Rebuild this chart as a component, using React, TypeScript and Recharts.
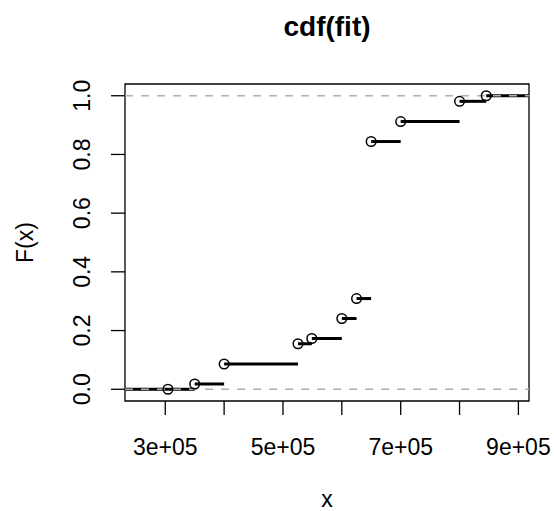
import React from 'react'
import {
	ComposedChart,
	XAxis,
	YAxis,
	Scatter,
	ReferenceLine,
	ReferenceArea,
	Label,
} from 'recharts'

// jump points of the fitted cdf and the level after each jump
const knots = [
	304600, 350000, 400000, 525500, 549000, 600000, 625000, 649800, 700000,
	800000, 845300,
]
const cdfValues = [
	0.0, 0.018, 0.086, 0.155, 0.173, 0.241, 0.309, 0.844, 0.912, 0.981, 1.0,
]

const xTicks = [300000, 400000, 500000, 600000, 700000, 800000, 900000]
const xLabelled = [300000, 500000, 700000, 900000]
const yTicks = [0, 0.2, 0.4, 0.6, 0.8, 1.0]
const guideLevels = [0, 1]

const xDomain: [number, number] = [231600, 918000]
const yDomain: [number, number] = [-0.04, 1.04]

const font = '"Liberation Sans", Arial, Helvetica, sans-serif'

const points = knots.map((x, i) => ({ x, y: cdfValues[i] }))

// horizontal pieces of the step function (no risers)
const steps = [
	{ x1: xDomain[0], x2: knots[0], y: cdfValues[0] },
	...knots.map((x, i) => ({
		x1: x,
		x2: i < knots.length - 1 ? knots[i + 1] : xDomain[1],
		y: cdfValues[i],
	})),
]

const fmtSci = (v: number) => `${v / 100000}e+05`

const XTick = (props: any) => {
	const { x, y, payload } = props
	if (!xLabelled.includes(payload.value)) return <g />
	return (
		<text
			x={x}
			y={y}
			dy='0.71em'
			textAnchor='middle'
			fontSize={23}
			fontFamily={font}
			fill='#000'
		>
			{fmtSci(payload.value)}
		</text>
	)
}

const YTick = (props: any) => {
	const { x, y, payload } = props
	return (
		<text
			x={x}
			y={y}
			transform={`rotate(-90 ${x} ${y})`}
			textAnchor='middle'
			fontSize={23}
			fontFamily={font}
			fill='#000'
		>
			{payload.value.toFixed(1)}
		</text>
	)
}

const OpenCircle = (props: any) => (
	<circle
		cx={props.cx}
		cy={props.cy}
		r={4.8}
		fill='none'
		stroke='#000'
		strokeWidth={1.5}
	/>
)

const App = () => {
	return (
		<div
			style={{
				position: 'absolute',
				left: 0,
				top: 0,
				width: 554,
				height: 511,
				background: '#fff',
			}}
		>
			<div
				style={{
					position: 'absolute',
					top: 13,
					left: 125,
					width: 404,
					textAlign: 'center',
					fontFamily: font,
					fontWeight: 'bold',
					fontSize: 28,
					lineHeight: '28px',
				}}
			>
				cdf(fit)
			</div>
			<ComposedChart
				width={554}
				height={511}
				margin={{ top: 84, right: 25, bottom: 0, left: 0 }}
			>
				<XAxis
					type='number'
					dataKey='x'
					domain={xDomain}
					allowDataOverflow
					ticks={xTicks}
					interval={0}
					axisLine={false}
					tickLine={{ stroke: '#000', strokeWidth: 1.3 }}
					tickSize={14}
					tickMargin={24}
					height={110}
					tick={<XTick />}
				>
					<Label
						content={(p: any) => (
							<text
								x={p.viewBox.x + p.viewBox.width / 2}
								y={p.viewBox.y + 106}
								textAnchor='middle'
								fontSize={23}
								fontFamily={font}
								fill='#000'
							>
								x
							</text>
						)}
					/>
				</XAxis>
				<YAxis
					type='number'
					dataKey='y'
					domain={yDomain}
					allowDataOverflow
					ticks={yTicks}
					interval={0}
					axisLine={false}
					tickLine={{ stroke: '#000', strokeWidth: 1.3 }}
					tickSize={14}
					tickMargin={21}
					width={125}
					tick={<YTick />}
				>
					<Label
						content={(p: any) => {
							const lx = p.viewBox.x + 33
							const ly = p.viewBox.y + p.viewBox.height / 2
							return (
								<text
									x={lx}
									y={ly}
									transform={`rotate(-90 ${lx} ${ly})`}
									textAnchor='middle'
									fontSize={23}
									fontFamily={font}
									fill='#000'
								>
									F(x)
								</text>
							)
						}}
					/>
				</YAxis>

				{/* plot box */}
				<ReferenceArea
					x1={xDomain[0]}
					x2={xDomain[1]}
					y1={yDomain[0]}
					y2={yDomain[1]}
					fill='none'
					stroke='#000'
					strokeWidth={1.3}
					ifOverflow='visible'
				/>

				{steps.map((s, i) => (
					<ReferenceLine
						key={'s' + i}
						segment={[
							{ x: s.x1, y: s.y },
							{ x: s.x2, y: s.y },
						]}
						stroke='#000'
						strokeWidth={3}
						ifOverflow='visible'
					/>
				))}

				{guideLevels.map((lv) => (
					<ReferenceLine
						key={'g' + lv}
						y={lv}
						stroke='#b0b0b0'
						strokeWidth={1.3}
						strokeDasharray='8 8'
					/>
				))}

				<Scatter
					data={points}
					dataKey='y'
					shape={<OpenCircle />}
					isAnimationActive={false}
				/>
			</ComposedChart>
		</div>
	)
}

export default App
